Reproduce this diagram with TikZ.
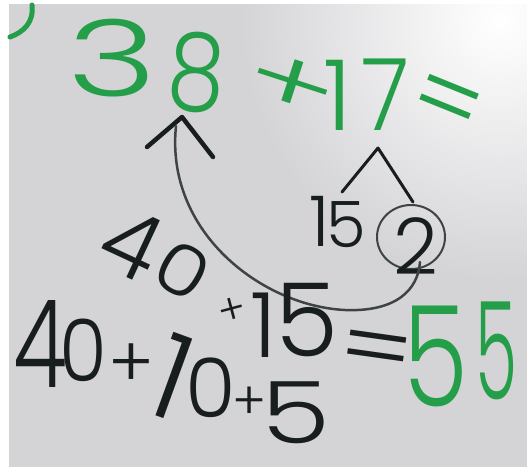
\documentclass[tikz,border=0pt]{standalone}
\usepackage{fontspec}
\usetikzlibrary{shapes.geometric}
\IfFontExistsTF{Poppins Light}{\setmainfont{Poppins Light}}{%
 \IfFontExistsTF{Open Sans Light}{\setmainfont{Open Sans Light}}{%
  \IfFontExistsTF{Lato Light}{\setmainfont{Lato Light}}{\setmainfont{Liberation Sans}}}}
\definecolor{mk}{RGB}{36,158,72}
\definecolor{ink}{RGB}{24,30,30}
\definecolor{arcc}{RGB}{62,68,68}
\definecolor{bgc}{RGB}{212,212,215}
\newcommand\hwsz[1]{\fontsize{#1}{#1}\selectfont}
\begin{document}
\begin{tikzpicture}[x=1pt,y=-1pt,
  gr/.style={text=mk,inner sep=0pt},
  bk/.style={text=ink,inner sep=0pt},
  pen/.style={draw=ink,line width=4.5pt,line cap=round,line join=round},
  thin/.style={draw=arcc,line width=2.5pt,line cap=round}]
\useasboundingbox (0,0) rectangle (527,467);
\begin{scope}
\clip (0,0) rectangle (527,467);
\fill[bgc] (0,0) rectangle (527,467);
\shade[inner color=white,outer color=bgc] (500,20) circle (260);
\fill[white] (0,0) rectangle (9,467);
\fill[white] (0,0) rectangle (527,4);
\end{scope}
% partial stroke top-left
\coordinate (ps1) at (32,5);
\coordinate (ps2) at (10,37);
\draw[draw=mk,line width=5pt,line cap=round] (ps1) .. controls (34,22) and (24,32) .. (ps2);
% top line 38+17=
\node[gr,font=\hwsz{106},xscale=1.45] (t3) at (112,58) {3};
\node[gr,font=\hwsz{108},rotate=-4,xscale=0.85] (t8) at (197,72) {8};
\node[gr,font=\hwsz{100},rotate=-18,xscale=1.4,yscale=0.85] (tplus) at (291,86) {+};
\node[gr,font=\hwsz{98}] (t1) at (338,95) {1};
\node[gr,font=\hwsz{100},xscale=0.9] (t7) at (385,95) {7};
\node[gr,font=\hwsz{104},rotate=-22] (teq) at (445,108) {=};
% split of 17
\coordinate (sp) at (378,148);
\coordinate (spl) at (342,192);
\coordinate (spr) at (413,202);
\draw[pen,line width=3pt] (spl) -- (sp) -- (spr);
\node[bk,font=\hwsz{70}] (f1) at (320,221) {1};
\node[bk,font=\hwsz{64}] (f5) at (346,225) {5};
\node[draw=arcc,line width=2pt,ellipse,minimum width=68pt,minimum height=64pt,inner sep=0pt] (circ) at (411,237) {};
\node[bk,font=\hwsz{78}] (two) at (416,246) {2};
% arrow arc
\coordinate (ctl) at (147,147);
\coordinate (ctt) at (182,117);
\coordinate (ctr) at (213,157);
\draw[pen] (ctl) -- (ctt) -- (ctr);
\coordinate (arcs) at (176,126);
\coordinate (arce) at (420,262);
\draw[thin] (arcs) .. controls (165,232) and (262,306) .. (345,310) .. controls (396,312) and (418,290) .. (arce);
% 40 + 15 = 55
\node[bk,font=\hwsz{92},rotate=-25] (m4) at (132,244) {4};
\node[bk,font=\hwsz{70},rotate=-30,xscale=1.2] (m0) at (183,270) {0};
\node[bk,font=\hwsz{42},rotate=15] (mplus) at (232,311) {+};
\node[bk,font=\hwsz{90}] (m1) at (264,325) {1};
\node[bk,font=\hwsz{102}] (m5) at (307,320) {5};
\node[bk,font=\hwsz{92},rotate=-8,xscale=1.2] (meq) at (376,357) {=};
\node[gr,font=\hwsz{140},xscale=0.75] (r5a) at (436,356) {5};
\node[gr,font=\hwsz{136},xscale=0.5] (r5b) at (496,351) {5};
% 40+10+5
\node[bk,font=\hwsz{122},xscale=0.72] (b4) at (40,344) {4};
\node[bk,font=\hwsz{86},xscale=0.9] (b0) at (83,350) {0};
\node[bk,font=\hwsz{70}] (bp1) at (131,366) {+};
\node[bk,font=\hwsz{118},rotate=-20] (b1) at (172,377) {1};
\node[bk,font=\hwsz{82}] (b0b) at (211,388) {0};
\node[bk,font=\hwsz{52}] (bp2) at (250,403) {+};
\node[bk,font=\hwsz{86},xscale=1.3] (b5) at (296,413) {5};
\end{tikzpicture}
\end{document}
